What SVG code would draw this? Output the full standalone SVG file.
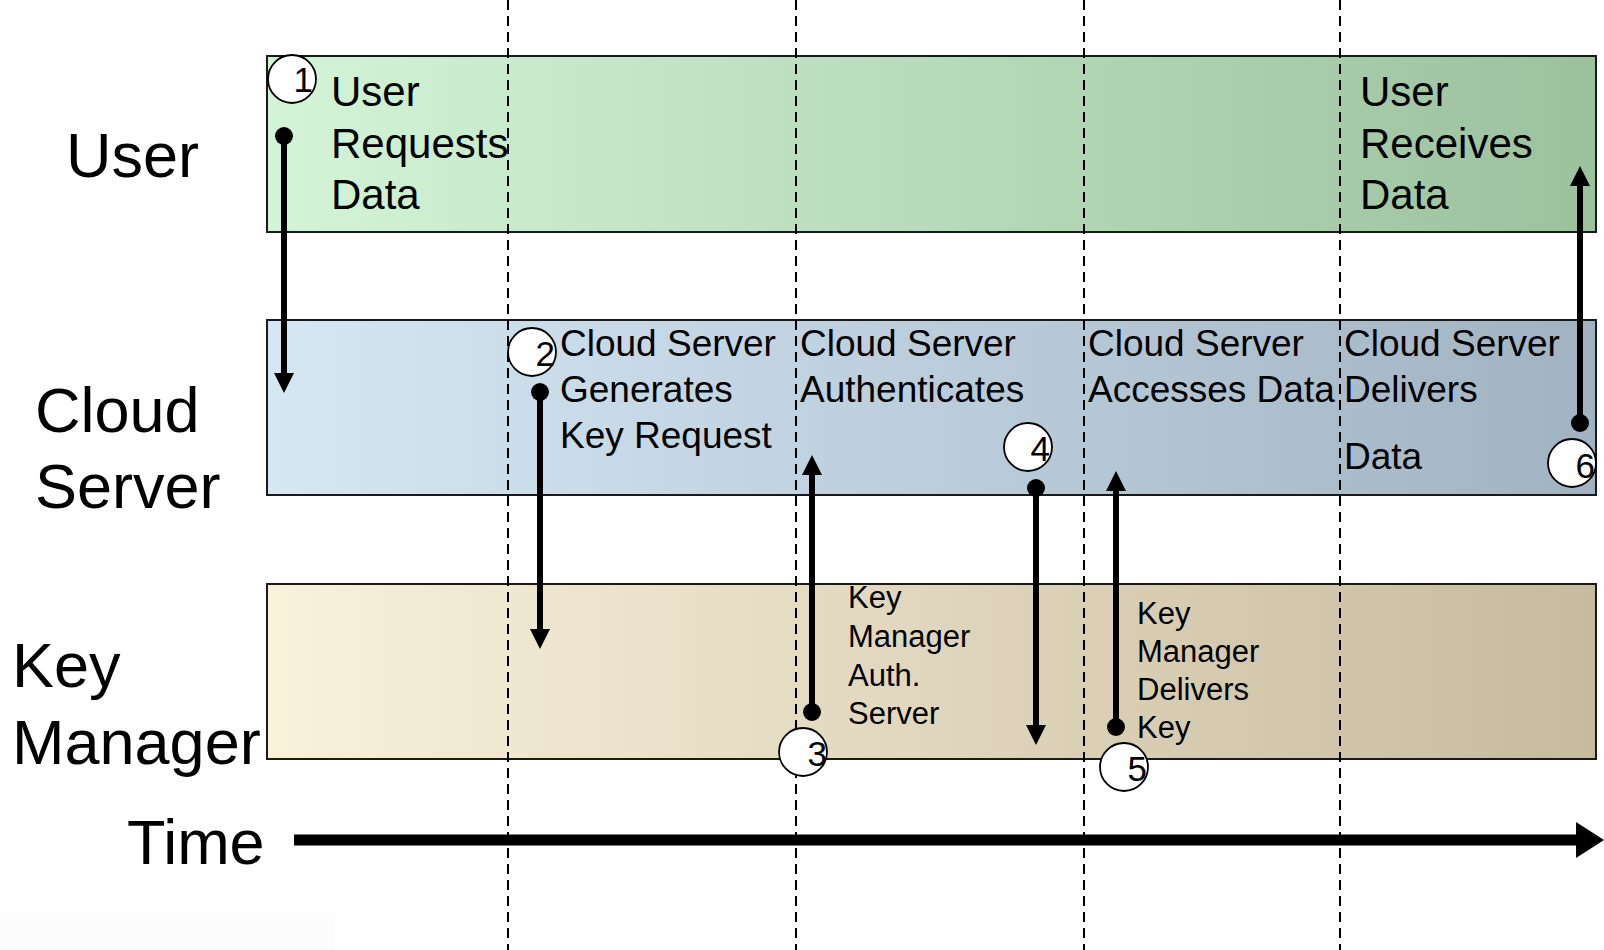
<svg xmlns="http://www.w3.org/2000/svg" width="1604" height="950" viewBox="0 0 1604 950">
  <defs>
    <linearGradient id="gUser" x1="0" y1="0" x2="1" y2="0">
      <stop offset="0" stop-color="#d3f4d7"/>
      <stop offset="1" stop-color="#9cc19d"/>
    </linearGradient>
    <linearGradient id="gCloud" x1="0" y1="0" x2="1" y2="0">
      <stop offset="0" stop-color="#d6e7f4"/>
      <stop offset="1" stop-color="#a1b3c1"/>
    </linearGradient>
    <linearGradient id="gKey" x1="0" y1="0" x2="1" y2="0">
      <stop offset="0" stop-color="#faf1db"/>
      <stop offset="1" stop-color="#c6bb9f"/>
    </linearGradient>
    <marker id="head" markerUnits="userSpaceOnUse" markerWidth="20" markerHeight="20" viewBox="0 0 18 18" refX="0" refY="9" orient="auto">
      <path d="M0,0 L18,9 L0,18 Z" fill="#000"/>
    </marker>
    <marker id="dot" markerUnits="userSpaceOnUse" markerWidth="20" markerHeight="20" viewBox="0 0 20 20" refX="10" refY="10" orient="auto">
      <circle cx="10" cy="10" r="9" fill="#000"/>
    </marker>
  </defs>
  <style>
    text { font-family: "Liberation Sans", Arial, sans-serif; fill: #000; }
    .lane { font-size: 63px; }
    .big { font-size: 42px; }
    .mid { font-size: 37px; }
    .small { font-size: 31px; }
    .num { font-size: 35px; text-anchor: end; }
    .band { stroke: #1a1a1a; stroke-width: 2; }
    .grid { stroke: #000; stroke-width: 2; stroke-dasharray: 10 6; fill: none; }
    .badge { fill: #fff; stroke: #000; stroke-width: 1.8; }
    .msg { stroke: #000; stroke-width: 6; fill: none; marker-start: url(#dot); marker-end: url(#head); }
  </style>

  <rect width="1604" height="950" fill="#fff"/>
  <rect x="0" y="913" width="335" height="37" fill="#fcfcfc"/>

  <!-- swimlane bands -->
  <g id="lane-user">
    <rect class="band" x="267" y="56" width="1329" height="176" fill="url(#gUser)"/>
    <text class="lane" x="66" y="177">User</text>
  </g>
  <g id="lane-cloud">
    <rect class="band" x="267" y="320" width="1329" height="175" fill="url(#gCloud)"/>
    <text class="lane" x="35" y="432">Cloud</text>
    <text class="lane" x="35" y="508">Server</text>
  </g>
  <g id="lane-key">
    <rect class="band" x="267" y="584" width="1329" height="175" fill="url(#gKey)"/>
    <text class="lane" x="12" y="687">Key</text>
    <text class="lane" x="12" y="764">Manager</text>
  </g>

  <!-- phase separators -->
  <g id="phases">
    <line class="grid" x1="508" y1="0" x2="508" y2="950"/>
    <line class="grid" x1="796" y1="0" x2="796" y2="950"/>
    <line class="grid" x1="1084" y1="0" x2="1084" y2="950"/>
    <line class="grid" x1="1340" y1="0" x2="1340" y2="950"/>
  </g>

  <!-- step descriptions -->
  <g id="step1">
    <text class="big" x="331" y="106">User</text>
    <text class="big" x="331" y="158">Requests</text>
    <text class="big" x="331" y="209">Data</text>
  </g>
  <g id="step2">
    <text class="mid" x="560" y="356">Cloud Server</text>
    <text class="mid" x="560" y="402">Generates</text>
    <text class="mid" x="560" y="448">Key Request</text>
  </g>
  <g id="step3">
    <text class="mid" x="800" y="356">Cloud Server</text>
    <text class="mid" x="800" y="402">Authenticates</text>
    <text class="small" x="848" y="608">Key</text>
    <text class="small" x="848" y="647">Manager</text>
    <text class="small" x="848" y="686">Auth.</text>
    <text class="small" x="848" y="724">Server</text>
  </g>
  <g id="step4">
    <text class="mid" x="1088" y="356">Cloud Server</text>
    <text class="mid" x="1088" y="402">Accesses Data</text>
  </g>
  <g id="step5">
    <text class="small" x="1137" y="624">Key</text>
    <text class="small" x="1137" y="662">Manager</text>
    <text class="small" x="1137" y="700">Delivers</text>
    <text class="small" x="1137" y="738">Key</text>
  </g>
  <g id="step6">
    <text class="mid" x="1344" y="356">Cloud Server</text>
    <text class="mid" x="1344" y="402">Delivers</text>
    <text class="mid" x="1344" y="469">Data</text>
    <text class="big" x="1360" y="106">User</text>
    <text class="big" x="1360" y="158">Receives</text>
    <text class="big" x="1360" y="209">Data</text>
  </g>

  <!-- messages between lanes -->
  <g id="connectors">
    <line class="msg" x1="284" y1="136" x2="284" y2="373"/>
    <line class="msg" x1="540" y1="392" x2="540" y2="629"/>
    <line class="msg" x1="812" y1="712" x2="812" y2="475"/>
    <line class="msg" x1="1036" y1="488" x2="1036" y2="725"/>
    <line class="msg" x1="1116" y1="727" x2="1116" y2="491"/>
    <line class="msg" x1="1580" y1="423" x2="1580" y2="186"/>
  </g>

  <!-- numbered step badges -->
  <g id="badge1"><circle class="badge" cx="292" cy="79" r="24"/><text class="num" x="313" y="92">1</text></g>
  <g id="badge2"><circle class="badge" cx="532" cy="352" r="24"/><text class="num" x="555" y="366">2</text></g>
  <g id="badge3"><circle class="badge" cx="803" cy="752" r="24"/><text class="num" x="827" y="766">3</text></g>
  <g id="badge4"><circle class="badge" cx="1028" cy="447" r="24"/><text class="num" x="1050" y="461">4</text></g>
  <g id="badge5"><circle class="badge" cx="1124" cy="767" r="24"/><text class="num" x="1147" y="781">5</text></g>
  <g id="badge6"><circle class="badge" cx="1572" cy="463" r="24"/><text class="num" x="1595" y="478">6</text></g>

  <!-- time axis -->
  <g id="time-axis">
    <text class="lane" x="127" y="864">Time</text>
    <line x1="294" y1="840" x2="1578" y2="840" stroke="#000" stroke-width="11"/>
    <polygon points="1576,822 1604,840 1576,858" fill="#000"/>
  </g>
</svg>
